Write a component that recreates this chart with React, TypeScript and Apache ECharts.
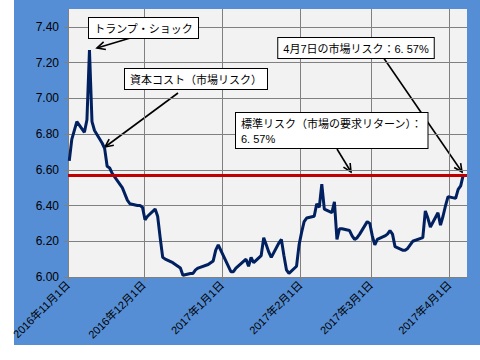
import React, { useEffect, useRef } from "react";
import * as echarts from "echarts";

const dates: string[] = [
  "2016-11-01", "2016-11-02", "2016-11-04", "2016-11-07", "2016-11-08", "2016-11-09", "2016-11-10",
  "2016-11-11", "2016-11-14", "2016-11-15", "2016-11-16", "2016-11-17", "2016-11-18", "2016-11-21",
  "2016-11-22", "2016-11-24", "2016-11-25", "2016-11-28", "2016-11-29", "2016-11-30", "2016-12-01",
  "2016-12-02", "2016-12-05", "2016-12-06", "2016-12-07", "2016-12-08", "2016-12-09", "2016-12-12",
  "2016-12-13", "2016-12-14", "2016-12-15", "2016-12-16", "2016-12-19", "2016-12-20", "2016-12-21",
  "2016-12-22", "2016-12-26", "2016-12-27", "2016-12-28", "2016-12-29", "2016-12-30",
  "2017-01-04", "2017-01-05", "2017-01-06", "2017-01-10", "2017-01-11", "2017-01-12", "2017-01-13",
  "2017-01-16", "2017-01-17", "2017-01-18", "2017-01-19", "2017-01-20", "2017-01-23", "2017-01-24",
  "2017-01-25", "2017-01-26", "2017-01-27", "2017-01-30", "2017-01-31", "2017-02-01", "2017-02-02",
  "2017-02-03", "2017-02-06", "2017-02-07", "2017-02-08", "2017-02-09", "2017-02-10", "2017-02-13",
  "2017-02-14", "2017-02-15", "2017-02-16", "2017-02-17", "2017-02-20", "2017-02-21", "2017-02-22",
  "2017-02-23", "2017-02-24", "2017-02-27", "2017-02-28", "2017-03-01", "2017-03-02", "2017-03-03",
  "2017-03-06", "2017-03-07", "2017-03-08", "2017-03-09", "2017-03-10", "2017-03-13", "2017-03-14",
  "2017-03-15", "2017-03-16", "2017-03-17", "2017-03-21", "2017-03-22", "2017-03-23", "2017-03-24",
  "2017-03-27", "2017-03-28", "2017-03-29", "2017-03-30", "2017-03-31", "2017-04-03", "2017-04-04",
  "2017-04-05", "2017-04-06",
];

const marketRisk: number[] = [
  6.65, 6.77, 6.87, 6.81, 6.88, 7.27, 6.87,
  6.82, 6.75, 6.72, 6.62, 6.61, 6.58, 6.52,
  6.50, 6.43, 6.41, 6.40, 6.40, 6.39, 6.32,
  6.34, 6.38, 6.34, 6.22, 6.11, 6.10, 6.08,
  6.07, 6.06, 6.05, 6.01, 6.02, 6.02, 6.04,
  6.05, 6.07, 6.08, 6.09, 6.15, 6.18,
  6.03, 6.03, 6.05, 6.10, 6.06, 6.11, 6.08,
  6.12, 6.22, 6.18, 6.14, 6.11, 6.19, 6.21,
  6.12, 6.04, 6.02, 6.06, 6.18, 6.25, 6.31,
  6.33, 6.34, 6.41, 6.39, 6.52, 6.38, 6.36,
  6.42, 6.21, 6.27, 6.27, 6.26, 6.23, 6.21,
  6.22, 6.24, 6.31, 6.30, 6.23, 6.18, 6.21,
  6.23, 6.24, 6.26, 6.24, 6.17, 6.15, 6.15,
  6.16, 6.18, 6.20, 6.22, 6.37, 6.33, 6.28,
  6.36, 6.29, 6.34, 6.40, 6.45, 6.44, 6.49,
  6.51, 6.57,
];

const standardRisk = 6.57;
const axisStart = "2016-11-01";
const axisEnd = "2017-04-08";
const yMin = 6.0;
const yMax = 7.5;
const yStep = 0.2;

const annTrump = "トランプ・ショック";
const annCost = "資本コスト（市場リスク）";
const annApr = "4月7日の市場リスク：6. 57%";
const annStd = "標準リスク（市場の要求リターン）：\n6. 57%";

const DAY = 86400000;
const toUTC = (s: string, h = 0) => {
  const [y, m, d] = s.split("-").map(Number);
  return Date.UTC(y, m - 1, d, h);
};

const arrow = (x1: number, y1: number, x2: number, y2: number) => {
  const a = Math.atan2(y2 - y1, x2 - x1);
  const len = 9;
  const ang = 0.45;
  const h1 = [x2 - len * Math.cos(a - ang), y2 - len * Math.sin(a - ang)];
  const h2 = [x2 - len * Math.cos(a + ang), y2 - len * Math.sin(a + ang)];
  return {
    type: "group",
    z: 100,
    children: [
      { type: "line", shape: { x1, y1, x2, y2 }, style: { stroke: "#000", lineWidth: 1.6 } },
      { type: "polyline", shape: { points: [h1, [x2, y2], h2] }, style: { stroke: "#000", lineWidth: 1.6, fill: null } },
    ],
  };
};

const CJK = "'Liberation Sans', 'Noto Sans CJK JP', sans-serif";

const box = (text: string, x: number, y: number, align: string) => ({
  type: "text",
  z: 101,
  x,
  y,
  style: {
    text,
    fontSize: 11,
    fontFamily: CJK,
    fill: "#000",
    align,
    verticalAlign: "top",
    backgroundColor: "#fff",
    borderColor: "#000",
    borderWidth: 1,
    padding: [3, 5, 2, 5],
    lineHeight: 15,
  },
});

export default function App() {
  const ref = useRef<HTMLDivElement>(null);
  useEffect(() => {
    if (!ref.current) return;
    const chart = echarts.init(ref.current, null, { renderer: "svg" });
    const data = dates.map((d, i) => [toUTC(d, 12), marketRisk[i]]);
    chart.setOption({
      animation: false,
      useUTC: true,
      backgroundColor: "#ffffff",
      grid: {
        left: 68, right: 13, top: 9, bottom: 83,
        show: true, backgroundColor: "#F2F2F2", borderWidth: 0,
        containLabel: false, outerBoundsMode: "none",
      },
      xAxis: {
        type: "time",
        min: toUTC(axisStart),
        max: toUTC(axisEnd),
        splitNumber: 5,
        minInterval: 28 * DAY,
        maxInterval: 31 * DAY,
        axisLine: { show: true, lineStyle: { color: "#808080", width: 1 } },
        axisTick: { show: true, length: 5, lineStyle: { color: "#808080" } },
        splitLine: { show: true, showMaxLine: false, lineStyle: { color: "#808080", width: 1 } },
        axisLabel: {
          rotate: 45,
          margin: 6,
          showMaxLabel: false,
          color: "#000",
          fontSize: 11,
          fontFamily: CJK,
          formatter: (v: number) => {
            const d = new Date(v);
            return `${d.getUTCFullYear()}年${d.getUTCMonth() + 1}月${d.getUTCDate()}日`;
          },
        },
      },
      yAxis: {
        type: "value",
        min: yMin,
        max: yMax,
        interval: yStep,
        axisLine: { show: true, lineStyle: { color: "#808080" } },
        axisTick: { show: true, length: 4, lineStyle: { color: "#808080" } },
        splitLine: { show: true, showMaxLine: false, lineStyle: { color: "#808080", width: 1 } },
        axisLabel: {
          showMaxLabel: false,
          color: "#000",
          fontSize: 12,
          margin: 9,
          fontFamily: "'Liberation Sans', Arial, sans-serif",
          formatter: (v: number) => (v > 7.45 ? "" : v.toFixed(2)),
        },
      },
      series: [
        {
          type: "line",
          data,
          symbol: "none",
          lineStyle: { color: "#002060", width: 3 },
          z: 3,
          markLine: {
            silent: true,
            symbol: ["none", "none"],
            label: { show: false },
            lineStyle: { color: "#C00000", width: 3, type: "solid" },
            data: [{ yAxis: standardRisk }],
            z: 4,
          },
        },
      ],
      graphic: [
        { type: "rect", z: -10, silent: true, shape: { x: 14, y: 0, width: 466, height: 345 }, style: { fill: "#558ED5" } },
        arrow(137, 36, 97, 48),
        arrow(178, 93, 105, 147),
        arrow(383, 57, 462, 172),
        arrow(337, 149, 351, 172),
        box(annTrump, 143.5, 18, "center"),
        box(annCost, 196, 69, "center"),
        box(annApr, 356, 38, "center"),
        box(annStd, 236, 113, "left"),
      ],
    });
    return () => chart.dispose();
  }, []);
  return (
    <div
      ref={ref}
      style={{ position: "fixed", left: 0, top: 0, width: 480, height: 360 }}
    />
  );
}
